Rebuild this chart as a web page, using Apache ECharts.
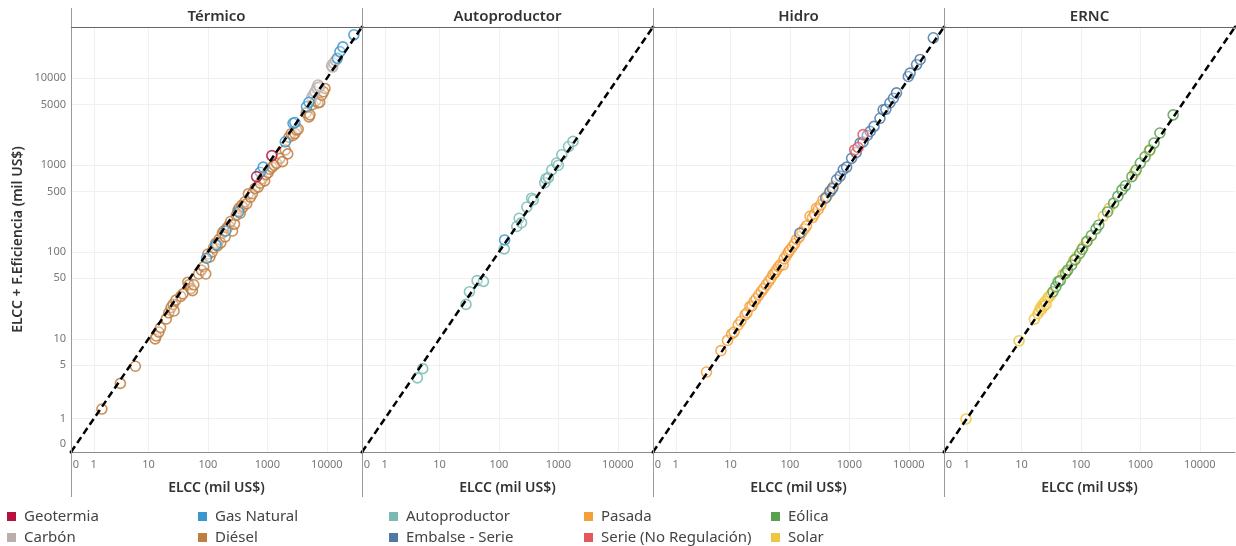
<!DOCTYPE html>
<html><head><meta charset="utf-8">
<script src="https://cdn.jsdelivr.net/npm/echarts@6/dist/echarts.min.js"></script>
<style>html,body{margin:0;padding:0;background:#fff}#c{width:1236px;height:546px}</style>
</head><body><div id="c"></div>
<script>
// ---------- DATA (values in mil US$) ----------
const panels = ['Térmico', 'Autoproductor', 'Hidro', 'ERNC'];
const xTicks = [0, 1, 10, 100, 1000, 10000];
const yTicks = [0, 1, 5, 10, 50, 100, 500, 1000, 5000, 10000];
const axisMaxValue = 39000;

const termicoDiesel = [[1.5,1.4],[3.3,3.0],[6,4.8],[13,10],[13.5,10.8],[15,12],[16,13.5],[20,17],[22,20],[24,23],[26,25],[27,21],[29,28],[35,31],[38,33],[46,45],[48,42],[52,38],[55,36],[58,42],[70,56],[78,62],[85,68],[92,56],[100,95],[108,88],[118,100],[125,112],[135,126],[145,118],[155,140],[165,128],[175,165],[185,175],[195,150],[210,190],[225,200],[240,225],[260,175],[280,210],[300,265],[320,300],[335,320],[350,280],[370,345],[390,330],[420,380],[450,360],[480,470],[520,430],[560,470],[620,540],[700,560],[760,620],[820,700],[900,660],[950,780],[1030,820],[1100,900],[1200,950],[1300,1000],[1430,1050],[1630,1200],[1800,1100],[2000,1500],[2200,1350],[2300,2100],[2500,2300],[2700,2200],[2900,2320],[3100,2540],[3300,2600],[4500,4000],[5000,3600],[5200,3800],[5800,5000],[6500,5500],[7100,5200],[7600,5300],[8200,6400],[9300,7650],[8800,7000]];
const termicoCarbon = [[5600,6100],[6000,6500],[6300,7000],[6800,7800],[7100,8400],[7500,8000],[12000,14000],[12500,13500],[13000,15000],[14000,16000]];
const termicoGas = [[95,85],[137,121],[200,175],[330,290],[760,830],[850,950],[2000,1860],[2700,3040],[2900,3100],[4550,4720],[5000,5300],[15000,17000],[16600,20300],[18600,23000],[28500,31700]];
const termicoGeo = [[660,740],[1190,1290]];
const autoAuto = [[4.2,3.5],[5.2,4.5],[28,25],[32,35],[43,47],[55,46],[123,109],[200,197],[219,245],[240,218],[295,330],[355,417],[380,400],[590,630],[620,700],[680,720],[775,885],[935,1060],[1000,1000],[1140,1320],[1480,1640],[1760,1880]];
const autoGas = [[125,138]];
const hidroPasada = [[3.9,4.1],[6.9,7.3],[8.9,9.6],[10.5,11.4],[11.5,12],[13.5,14.5],[15,16],[17.6,18.9],[19,20],[21.3,23.6],[23,24],[25,27],[27,29],[30,32],[33,35],[36,38],[40,42],[44,46],[48,50],[52,55],[56,58],[60,63],[65,68],[70,72],[77,71],[80,84],[88,92],[95,100],[100,106],[110,115],[120,125],[130,140],[145,150],[160,170],[175,185],[190,200],[218,258],[240,250],[260,275],[280,320],[300,310],[330,350],[360,400],[420,440],[480,500],[540,570]];
const hidroEmbalse = [[147,165],[400,420],[472,500],[520,540],[610,680],[700,750],[790,890],[900,950],[1090,1200],[1300,1400],[1520,1800],[1700,1850],[2000,2200],[2240,2450],[2600,2800],[3270,3470],[3700,4350],[4100,4400],[4800,5200],[5500,5900],[6200,6800],[9800,10500],[10500,11500],[13500,14400],[15500,16500],[25800,29300]];
const hidroSerie = [[1230,1500],[1400,1600],[1700,2250]];
const erncSolar = [[0.96,0.99],[9.1,9.5],[16.5,16.9],[19,19.5],[20,21],[21,23],[22,22],[23,25],[24,24],[25,27],[26,25],[28,30],[30,31],[32,33],[50,55],[58,60],[75,80],[85,88],[110,115],[130,135],[239,259],[300,320],[800,820],[1400,1450]];
const erncEolica = [[34,35],[38,40],[41.5,45.7],[45,47],[55,57],[60,62],[70,71],[80,82],[96,97],[105,108],[125,132],[150,155],[180,185],[200,205],[280,290],[355,366],[420,440],[490,520],[560,580],[720,740],[850,880],[1000,1060],[1200,1250],[1450,1500],[1700,1800],[2130,2350],[3560,3800]];

const legendCols = [['Geotermia','Carbón'],['Gas Natural','Diésel'],['Autoproductor','Embalse - Serie'],['Pasada','Serie (No Regulación)'],['Eólica','Solar']];
const colors = {
  'Geotermia':'#b5123e','Carbón':'#b9b0ab','Gas Natural':'#3a96cc','Diésel':'#c07d40',
  'Autoproductor':'#79bbb3','Embalse - Serie':'#4e79a7','Pasada':'#f4a03a',
  'Serie (No Regulación)':'#e4575b','Eólica':'#59a14f','Solar':'#efc640'
};
const seriesDefs = [
  [0,'Diésel',termicoDiesel],[0,'Carbón',termicoCarbon],[0,'Gas Natural',termicoGas],[0,'Geotermia',termicoGeo],
  [1,'Autoproductor',autoAuto],[1,'Gas Natural',autoGas],
  [2,'Pasada',hidroPasada],[2,'Embalse - Serie',hidroEmbalse],[2,'Serie (No Regulación)',hidroSerie],
  [3,'Solar',erncSolar],[3,'Eólica',erncEolica]
];

// ---------- SCALE (symmetric log) ----------
const T = v => Math.asinh(v) / Math.LN10;
const tMax = T(axisMaxValue);
const nearestTick = (t, ticks) => { let b = ticks[0]; for (const k of ticks) if (Math.abs(T(k)-t) < Math.abs(T(b)-t)) b = k; return b; };

const FONT = 'Noto Sans';
const L0 = 71, PW = 291, TOP = 27, PH = 425;

const grids = [], xAxes = [], yAxes = [], series = [];
panels.forEach((p, i) => {
  grids.push({ left: L0 + PW*i, top: TOP, width: PW, height: PH, containLabel: false });
  xAxes.push({
    type: 'value', gridIndex: i, min: 0, max: tMax,
    name: 'ELCC (mil US$)', nameLocation: 'middle', nameGap: 29,
    nameTextStyle: { fontFamily: FONT, fontSize: 14, fontWeight: 600, color: '#333' },
    axisLine: { show: true, lineStyle: { color: '#8c8c8c', width: 1 } },
    axisTick: { show: false, customValues: xTicks.map(T) },
    axisLabel: { show: true, customValues: xTicks.map(T), margin: 7, fontFamily: FONT, fontSize: 11, color: '#777',
      formatter: v => { const k = nearestTick(v, xTicks); return k === 0 ? '{z|0}' : String(k); },
      rich: { z: { fontFamily: FONT, fontSize: 11, color: '#777', padding: [0, 0, 0, 10] } } },
    splitLine: { show: true, lineStyle: { color: '#f0f0f0', width: 1 } }
  });
  yAxes.push({
    type: 'value', gridIndex: i, min: 0, max: tMax,
    name: i === 0 ? 'ELCC + F.Eficiencia (mil US$)' : '', nameLocation: 'middle', nameGap: 46,
    nameTextStyle: { fontFamily: FONT, fontSize: 14, fontWeight: 600, color: '#333' },
    axisLine: { show: false },
    axisTick: { show: false, customValues: yTicks.map(T) },
    axisLabel: { show: i === 0, customValues: yTicks.map(T), margin: 5, fontFamily: FONT, fontSize: 11, color: '#777',
      formatter: v => { const k = nearestTick(v, yTicks); return k === 0 ? '{z|0}' : String(k); },
      rich: { z: { fontFamily: FONT, fontSize: 11, color: '#777', padding: [0, 0, 16, 0] } } },
    splitLine: { show: true, lineStyle: { color: '#f0f0f0', width: 1 } }
  });
  series.push({
    type: 'line', xAxisIndex: i, yAxisIndex: i, z: 5, silent: true,
    data: [[0, 0], [tMax, tMax]],
    symbol: 'circle', symbolSize: 3, showSymbol: true,
    itemStyle: { color: '#000' },
    lineStyle: { color: '#000', width: 2.5, type: [7, 4] }
  });
});

seriesDefs.forEach(([gi, name, pts]) => {
  series.push({
    type: 'scatter', name, xAxisIndex: gi, yAxisIndex: gi, z: 2,
    symbol: 'circle', symbolSize: 10,
    data: pts.map(([x, y]) => [T(x), T(y)]),
    itemStyle: { color: 'rgba(255,255,255,0.35)', borderColor: colors[name], borderWidth: 1.6, opacity: 0.85 }
  });
});

const legendLefts = [7, 198, 389, 584, 771];
const legends = legendCols.map((names, i) => ({
  orient: 'vertical', left: legendLefts[i], top: 509, height: 40, padding: 0, itemGap: 6,
  itemWidth: 9, itemHeight: 9, icon: 'rect',
  textStyle: { fontFamily: FONT, fontSize: 15, lineHeight: 15, color: '#444', padding: [0, 0, 0, 3] },
  data: names.map(n => ({ name: n, itemStyle: { color: colors[n], borderWidth: 0, opacity: 1 } })),
  selectedMode: false
}));

const graphic = [];
[0, 1, 2, 3].forEach(i => {
  const x = L0 + PW*i + 0.5;
  graphic.push({ type: 'line', shape: { x1: x, y1: 8, x2: x, y2: 497 }, style: { stroke: '#9a9a9a', lineWidth: 1 }, z: 10 });
  graphic.push({ type: 'text', x: L0 + PW*i + PW/2, y: 17, style: { text: panels[i], fontFamily: FONT, fontSize: 15, fontWeight: 600, fill: '#333', align: 'center', verticalAlign: 'middle' } });
});
graphic.push({ type: 'line', shape: { x1: L0, y1: TOP + 0.5, x2: 1236, y2: TOP + 0.5 }, style: { stroke: '#666', lineWidth: 1 }, z: 10 });

const chart = echarts.init(document.getElementById('c'), null, { renderer: 'canvas' });
chart.setOption({
  animation: false, backgroundColor: '#fff',
  grid: grids, xAxis: xAxes, yAxis: yAxes, series, legend: legends, graphic
});
</script></body></html>
